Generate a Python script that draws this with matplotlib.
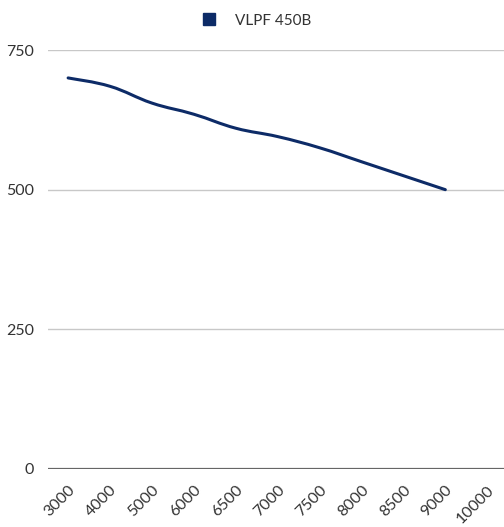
import numpy as np
import matplotlib
matplotlib.use("Agg")
import matplotlib.pyplot as plt
from matplotlib.path import Path
from matplotlib.patches import PathPatch
from matplotlib.lines import Line2D
import matplotlib.transforms as mtransforms

plt.rcParams['font.family'] = ['Lato', 'DejaVu Sans']

categories = ["3000", "4000", "5000", "6000", "6500", "7000",
              "7500", "8000", "8500", "9000", "10000"]
values = [700, 685, 655, 635, 610, 595, 575, 550, 525, 500]   # no value at 10000
series_name = "VLPF 450B"
y_ticks = [0, 250, 500, 750]

line_color = "#0d2b67"


def smooth_path(xs, ys, tension=0.4):
    # cubic bezier through the points (chart-style curve tension)
    xs = np.asarray(xs, float)
    ys = np.asarray(ys, float)
    verts = [(xs[0], ys[0])]
    codes = [Path.MOVETO]
    n = len(xs)
    for i in range(n - 1):
        p0 = (xs[max(i - 1, 0)], ys[max(i - 1, 0)])
        p1 = (xs[i], ys[i])
        p2 = (xs[i + 1], ys[i + 1])
        p3 = (xs[min(i + 2, n - 1)], ys[min(i + 2, n - 1)])
        c1 = (p1[0] + (p2[0] - p0[0]) * tension / 2, p1[1] + (p2[1] - p0[1]) * tension / 2)
        c2 = (p2[0] - (p3[0] - p1[0]) * tension / 2, p2[1] - (p3[1] - p1[1]) * tension / 2)
        verts += [c1, c2, p2]
        codes += [Path.CURVE4] * 3
    return Path(verts, codes)


fig = plt.figure(figsize=(5.04, 5.27), dpi=100)
ax = fig.add_axes([48 / 504, (527 - 469) / 527, 456 / 504, 419 / 527])

x = np.arange(len(categories))
ax.add_patch(PathPatch(smooth_path(x[:len(values)], values), facecolor="none",
                       edgecolor=line_color, linewidth=2.2, capstyle="round",
                       joinstyle="round", zorder=3))

ax.set_xlim(-0.48, len(categories) - 0.6)
ax.set_ylim(0, 750)
ax.set_yticks(y_ticks)
ax.set_yticklabels([str(v) for v in y_ticks])
for v in y_ticks:
    ax.axhline(v, color="#666666" if v == 0 else "#c8c8c8",
               linewidth=1.6 if v == 0 else 1.0, zorder=1)

for s in ax.spines.values():
    s.set_visible(False)
ax.tick_params(axis="both", length=0, labelsize=11.5, colors="#333333")
ax.tick_params(axis="y", pad=10)
ax.set_xticks(x)
ax.set_xticklabels(categories, rotation=45, ha="right", rotation_mode="anchor")
offset = mtransforms.ScaledTranslation(0 / 100, -9 / 100, fig.dpi_scale_trans)
for lbl in ax.get_xticklabels():
    lbl.set_transform(lbl.get_transform() + offset)

handle = Line2D([], [], marker="s", linestyle="none", markersize=9,
                markerfacecolor=line_color, markeredgecolor=line_color)
fig.legend([handle], [series_name], loc="upper center", bbox_to_anchor=(0.5, 1.0),
           frameon=False, fontsize=11, handletextpad=0.7,
           labelcolor="#333333")

fig.savefig("out.png", dpi=100)
